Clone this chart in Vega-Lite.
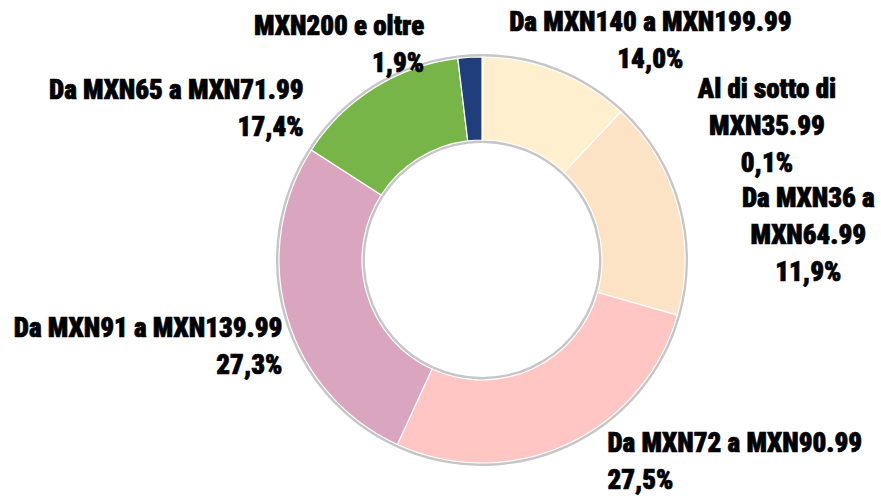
{
  "$schema": "https://vega.github.io/schema/vega-lite/v6.json",
  "width": 798,
  "height": 478,
  "autosize": {"type": "none"},
  "padding": {"left": 83, "top": 21, "right": 0, "bottom": 0},
  "background": "#ffffff",
  "config": {
    "view": {"stroke": null},
    "text": {"font": "Roboto Condensed, DejaVu Sans Condensed, sans-serif", "fontSize": 27, "fontWeight": 900, "stroke": "#000000", "strokeWidth": 0.7, "lineBreak": "\n", "lineHeight": 37, "color": "#000000", "baseline": "middle"}
  },
  "data": {
    "values": [
      {"fascia": "Al di sotto di MXN35.99", "quota": 0.1, "ordine": 1, "ordine_etichetta": 2, "etichetta": "Al di sotto di\nMXN35.99\n0,1%"},
      {"fascia": "Da MXN36 a MXN64.99", "quota": 11.9, "ordine": 2, "ordine_etichetta": 3, "etichetta": "Da MXN36 a\nMXN64.99\n11,9%"},
      {"fascia": "Da MXN65 a MXN71.99", "quota": 17.4, "ordine": 3, "ordine_etichetta": 6, "etichetta": "Da MXN65 a MXN71.99\n17,4%"},
      {"fascia": "Da MXN72 a MXN90.99", "quota": 27.5, "ordine": 4, "ordine_etichetta": 4, "etichetta": "Da MXN72 a MXN90.99\n27,5%"},
      {"fascia": "Da MXN91 a MXN139.99", "quota": 27.3, "ordine": 5, "ordine_etichetta": 5, "etichetta": "Da MXN91 a MXN139.99\n27,3%"},
      {"fascia": "Da MXN140 a MXN199.99", "quota": 14.0, "ordine": 6, "ordine_etichetta": 1, "etichetta": "Da MXN140 a MXN199.99\n14,0%"},
      {"fascia": "MXN200 e oltre", "quota": 1.9, "ordine": 7, "ordine_etichetta": 7, "etichetta": "MXN200 e oltre\n1,9%"}
    ]
  },
  "layer": [
    {
      "mark": {"type": "arc", "radius": 206, "innerRadius": 117, "color": "#c6c6c6"},
      "encoding": {
        "theta": {"field": "quota", "type": "quantitative", "stack": true},
        "order": {"field": "ordine", "type": "quantitative"},
        "detail": {"field": "fascia", "type": "nominal"}
      }
    },
    {
      "mark": {"type": "arc", "radius": 203, "innerRadius": 120, "stroke": "#ffffff", "strokeWidth": 1.2},
      "encoding": {
        "theta": {"field": "quota", "type": "quantitative", "stack": true},
        "order": {"field": "ordine", "type": "quantitative"},
        "color": {
          "field": "fascia",
          "type": "nominal",
          "legend": null,
          "scale": {
            "domain": ["Al di sotto di MXN35.99", "Da MXN36 a MXN64.99", "Da MXN65 a MXN71.99", "Da MXN72 a MXN90.99", "Da MXN91 a MXN139.99", "Da MXN140 a MXN199.99", "MXN200 e oltre"],
            "range": ["#333333", "#FEF0CE", "#FCE3C6", "#FFC6C3", "#DAA5BF", "#77B548", "#1F3E7B"]
          }
        }
      }
    },
    {
      "mark": {"type": "text", "radius": 291, "align": "center"},
      "encoding": {
        "theta": {"field": "quota", "type": "quantitative", "stack": true, "scale": {"range": [0.2049, 6.096]}},
        "order": {"field": "ordine_etichetta", "type": "quantitative"},
        "detail": {"field": "fascia", "type": "nominal"},
        "text": {"condition": {"test": {"field": "fascia", "equal": "Da MXN140 a MXN199.99"}, "field": "etichetta", "type": "nominal"}, "value": ""}
      }
    },
    {
      "mark": {"type": "text", "radius": 332, "align": "center"},
      "encoding": {
        "theta": {"field": "quota", "type": "quantitative", "stack": true, "scale": {"range": [0.2049, 6.096]}},
        "order": {"field": "ordine_etichetta", "type": "quantitative"},
        "detail": {"field": "fascia", "type": "nominal"},
        "text": {"condition": {"test": {"field": "fascia", "oneOf": ["Al di sotto di MXN35.99", "Da MXN36 a MXN64.99"]}, "field": "etichetta", "type": "nominal"}, "value": ""}
      }
    },
    {
      "mark": {"type": "text", "radius": 223, "align": "left"},
      "encoding": {
        "theta": {"field": "quota", "type": "quantitative", "stack": true, "scale": {"range": [0.2049, 6.096]}},
        "order": {"field": "ordine_etichetta", "type": "quantitative"},
        "detail": {"field": "fascia", "type": "nominal"},
        "text": {"condition": {"test": {"field": "fascia", "equal": "Da MXN72 a MXN90.99"}, "field": "etichetta", "type": "nominal"}, "value": ""}
      }
    },
    {
      "mark": {"type": "text", "radius": 246, "align": "right"},
      "encoding": {
        "theta": {"field": "quota", "type": "quantitative", "stack": true, "scale": {"range": [0.2049, 6.096]}},
        "order": {"field": "ordine_etichetta", "type": "quantitative"},
        "detail": {"field": "fascia", "type": "nominal"},
        "text": {"condition": {"test": {"field": "fascia", "equal": "Da MXN65 a MXN71.99"}, "field": "etichetta", "type": "nominal"}, "value": ""}
      }
    },
    {
      "mark": {"type": "text", "radius": 235, "dy": -55, "align": "right"},
      "encoding": {
        "theta": {"field": "quota", "type": "quantitative", "stack": true, "scale": {"range": [0.2049, 6.096]}},
        "order": {"field": "ordine_etichetta", "type": "quantitative"},
        "detail": {"field": "fascia", "type": "nominal"},
        "text": {"condition": {"test": {"field": "fascia", "equal": "Da MXN91 a MXN139.99"}, "field": "etichetta", "type": "nominal"}, "value": ""}
      }
    },
    {
      "mark": {"type": "text", "radius": 240, "align": "right"},
      "encoding": {
        "theta": {"field": "quota", "type": "quantitative", "stack": true, "scale": {"range": [0.2049, 6.096]}},
        "order": {"field": "ordine_etichetta", "type": "quantitative"},
        "detail": {"field": "fascia", "type": "nominal"},
        "text": {"condition": {"test": {"field": "fascia", "equal": "MXN200 e oltre"}, "field": "etichetta", "type": "nominal"}, "value": ""}
      }
    }
  ],
  "resolve": {"scale": {"theta": "independent"}}
}
